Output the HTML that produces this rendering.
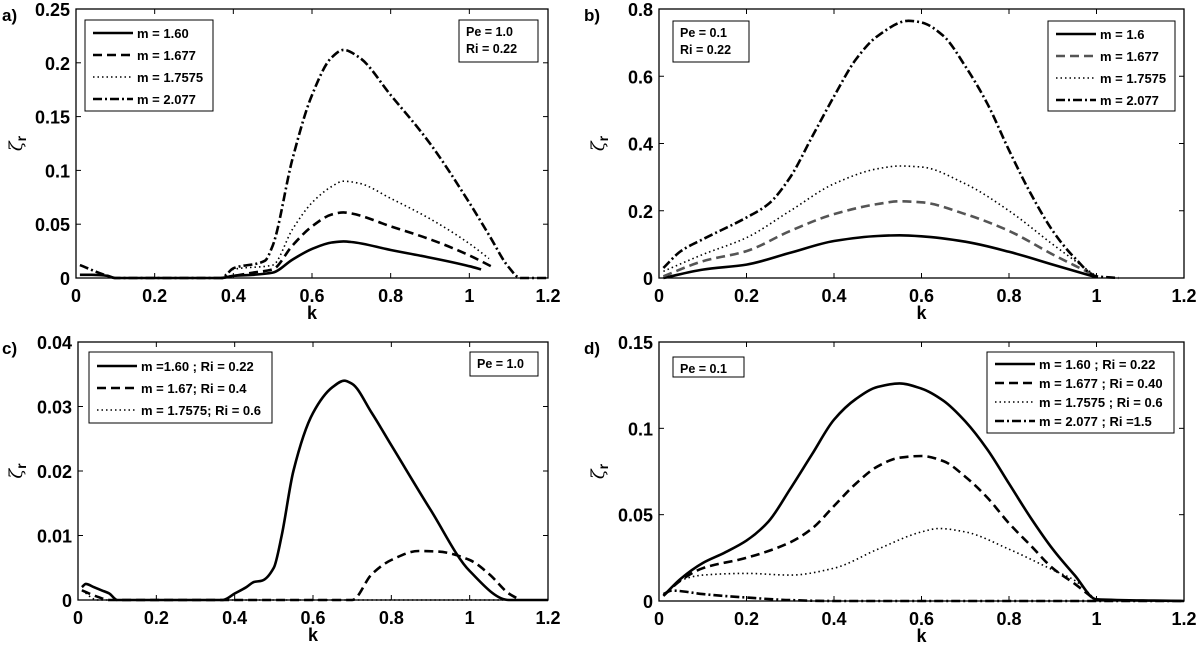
<!DOCTYPE html>
<html><head><meta charset="utf-8"><style>
body{margin:0;background:#fff;}
svg{display:block;font-family:"Liberation Sans",Arial,sans-serif;}
</style></head><body>
<svg id="fig" width="1200" height="645" viewBox="0 0 1200 645"></svg>
<script>
// Panel a data (Pe=1.0, Ri=0.22)
const aK1=[0.01,0.04,0.08,0.1,0.37,0.4,0.45,0.5,0.55,0.6,0.65,0.68,0.7,0.8,0.9,1.0,1.03];
const aY1=[0.003,0.003,0.002,0,0,0.002,0.003,0.005,0.017,0.027,0.033,0.034,0.0335,0.026,0.019,0.011,0.008];
const aK2=[0.37,0.45,0.5,0.55,0.6,0.65,0.68,0.7,0.8,0.9,1.0,1.06];
const aY2=[0,0.005,0.008,0.03,0.048,0.059,0.061,0.060,0.048,0.036,0.021,0.01];
const aK3=[0.37,0.4,0.5,0.55,0.6,0.65,0.68,0.72,0.8,0.9,1.0,1.05];
const aY3=[0,0.008,0.012,0.045,0.07,0.085,0.09,0.088,0.074,0.055,0.032,0.018];
const aK4=[0.01,0.08,0.1,0.37,0.4,0.48,0.5,0.55,0.6,0.65,0.68,0.72,0.8,0.9,1.0,1.05,1.1,1.13,1.2];
const aY4=[0.012,0.002,0,0,0.009,0.016,0.03,0.11,0.17,0.205,0.212,0.205,0.17,0.125,0.07,0.04,0.01,0,0];
// Panel b data (Pe=0.1, Ri=0.22)
const bK1=[0.01,0.1,0.2,0.3,0.4,0.5,0.55,0.6,0.7,0.8,0.9,1.0];
const bY1=[0,0.025,0.04,0.075,0.11,0.125,0.127,0.124,0.108,0.078,0.04,0.002];
const bK2=[0.01,0.1,0.2,0.3,0.4,0.5,0.55,0.6,0.7,0.8,0.9,1.0];
const bY2=[0.005,0.05,0.08,0.14,0.19,0.22,0.228,0.225,0.19,0.14,0.07,0.005];
const bK3=[0.01,0.1,0.2,0.3,0.4,0.5,0.55,0.6,0.7,0.8,0.9,1.0];
const bY3=[0.02,0.07,0.12,0.2,0.28,0.325,0.333,0.33,0.28,0.2,0.1,0.005];
const bK4=[0.01,0.05,0.1,0.2,0.25,0.3,0.35,0.4,0.45,0.5,0.57,0.6,0.65,0.7,0.75,0.8,0.85,0.9,0.95,1.0,1.05];
const bY4=[0.03,0.08,0.115,0.18,0.22,0.3,0.42,0.54,0.65,0.72,0.765,0.76,0.72,0.63,0.52,0.38,0.25,0.14,0.06,0.005,0];
// Panel c data (Pe=1.0)
const cK1=[0.01,0.02,0.04,0.06,0.08,0.1,0.37,0.4,0.43,0.45,0.47,0.5,0.52,0.55,0.6,0.65,0.68,0.7,0.75,0.8,0.9,1.0,1.1,1.2];
const cY1=[0.002,0.0025,0.002,0.0015,0.001,0,0,0.001,0.002,0.0028,0.003,0.005,0.01,0.02,0.029,0.033,0.034,0.0335,0.029,0.024,0.014,0.0045,0,0];
const cK2=[0.01,0.05,0.08,0.7,0.75,0.8,0.87,0.92,1.0,1.05,1.1,1.13];
const cY2=[0.0015,0.0005,0,0,0.004,0.0062,0.0076,0.0075,0.0062,0.004,0.001,0];
const cK3=[0.01,0.05,1.2];
const cY3=[0.0015,0,0];
// Panel d data (Pe=0.1)
const dK1=[0.01,0.05,0.1,0.15,0.2,0.25,0.3,0.35,0.4,0.45,0.5,0.55,0.6,0.65,0.7,0.75,0.8,0.85,0.9,0.95,1.0,1.2];
const dY1=[0.003,0.013,0.022,0.028,0.035,0.046,0.065,0.085,0.105,0.117,0.124,0.126,0.123,0.116,0.104,0.088,0.068,0.048,0.03,0.015,0.001,0];
const dK2=[0.01,0.05,0.1,0.2,0.3,0.35,0.4,0.45,0.5,0.55,0.6,0.65,0.7,0.75,0.8,0.85,0.9,0.95,1.0];
const dY2=[0.003,0.012,0.019,0.025,0.034,0.042,0.055,0.068,0.078,0.083,0.084,0.081,0.072,0.06,0.045,0.032,0.019,0.01,0];
const dK3=[0.01,0.05,0.1,0.2,0.3,0.4,0.5,0.6,0.64,0.7,0.8,0.9,0.95,1.0];
const dY3=[0.003,0.012,0.015,0.016,0.015,0.019,0.03,0.04,0.042,0.04,0.03,0.018,0.012,0];
const dK4=[0.01,0.03,0.1,0.2,0.3,0.4,1.2];
const dY4=[0.004,0.006,0.004,0.002,0.0005,0,0];

const xTicks=["0","0.2","0.4","0.6","0.8","1","1.2"];
const aTicks=["0","0.05","0.1","0.15","0.2","0.25"];
const bTicks=["0","0.2","0.4","0.6","0.8"];
const cTicks=["0","0.01","0.02","0.03","0.04"];
const dTicks=["0","0.05","0.1","0.15"];

const NS="http://www.w3.org/2000/svg";
const svg=document.getElementById('fig');
function mk(tag,attrs,parent,text){const e=document.createElementNS(NS,tag);for(const k in attrs)e.setAttribute(k,attrs[k]);if(text!==undefined)e.textContent=text;(parent||svg).appendChild(e);return e;}
const styles={
 solid:{stroke:"#000",dash:"none",w:2.6},
 dash:{stroke:"#000",dash:"9,5",w:2.6},
 graydash:{stroke:"#555",dash:"9,5",w:2.6},
 dot:{stroke:"#000",dash:"1.5,3",w:1.6},
 dashdot:{stroke:"#000",dash:"9,3,2,3",w:2.6}
};
// monotone cubic (Fritsch-Carlson) path, x strictly increasing
function smoothPath(pts){
 const n=pts.length;
 if(n<3){return "M"+pts.map(p=>p[0].toFixed(1)+","+p[1].toFixed(1)).join(" L");}
 const dx=[],s=[];
 for(let i=0;i<n-1;i++){dx.push(pts[i+1][0]-pts[i][0]);s.push((pts[i+1][1]-pts[i][1])/dx[i]);}
 const m=[s[0]];
 for(let i=1;i<n-1;i++){
  if(s[i-1]*s[i]<=0)m.push(0);
  else{const w1=2*dx[i]+dx[i-1],w2=dx[i]+2*dx[i-1];m.push((w1+w2)/(w1/s[i-1]+w2/s[i]));}
 }
 m.push(s[n-2]);
 let d="M"+pts[0][0].toFixed(1)+","+pts[0][1].toFixed(1);
 for(let i=0;i<n-1;i++){
  const h=dx[i]/3;
  d+=` C${(pts[i][0]+h).toFixed(1)},${(pts[i][1]+m[i]*h).toFixed(1)} ${(pts[i+1][0]-h).toFixed(1)},${(pts[i+1][1]-m[i+1]*h).toFixed(1)} ${pts[i+1][0].toFixed(1)},${pts[i+1][1].toFixed(1)}`;
 }
 return d;
}
function panel(cfg){
 const g=mk('g',{});
 
 
 const {L,R,T,B,ymax,yT}=cfg;
 const xs=k=>L+(k/1.2)*(R-L);
 const ys=v=>B-(v/ymax)*(B-T);
 mk('rect',{x:L,y:T,width:R-L,height:B-T,fill:"#fff",stroke:"none"},g);
 cfg.series.forEach((s,i)=>{
  const st=styles[s.style];
  const pts=s.k.map((k,j)=>[xs(k),ys(s.y[j])]);
  const p=mk('path',{d:smoothPath(pts),fill:"none",stroke:st.stroke,"stroke-width":st.w,"stroke-dasharray":st.dash,"stroke-linejoin":"round"},g);
  
  
 });
 mk('rect',{x:L,y:T,width:R-L,height:B-T,fill:"none",stroke:"#000","stroke-width":1.3},g);
 xTicks.forEach((t,i)=>{
  const x=xs(i*0.2);
  mk('line',{x1:x,y1:B,x2:x,y2:B-5,stroke:"#000"},g);
  mk('line',{x1:x,y1:T,x2:x,y2:T+5,stroke:"#000"},g);
  const tx=mk('text',{x:x,y:B+24,"text-anchor":"middle","font-size":18,"font-weight":"bold"},g,t);
  
  
 });
 yT.forEach((t,i)=>{
  const y=ys(i*ymax/(yT.length-1));
  mk('line',{x1:L,y1:y,x2:L+5,y2:y,stroke:"#000"},g);
  mk('line',{x1:R,y1:y,x2:R-5,y2:y,stroke:"#000"},g);
  const tx=mk('text',{x:L-6,y:y+7,"text-anchor":"end","font-size":18,"font-weight":"bold"},g,t);
  
  
 });
 const xl=mk('text',{x:(L+R)/2,y:B+41,"text-anchor":"middle","font-size":18,"font-weight":"bold"},g,"k");
 
 
 const yl=mk('text',{x:0,y:0,"font-size":18,transform:`translate(${cfg.ylx},${(T+B)/2}) rotate(-90)`,"text-anchor":"middle"},g);
 
 
 mk('tspan',{"font-family":"DejaVu Serif, serif","font-style":"italic"},yl,"ζ");
 mk('tspan',{dy:4,"font-size":14,"font-weight":"bold"},yl,"r");
 const pl=mk('text',{x:cfg.plx,y:T+12,"font-size":17,"font-weight":"bold"},g,cfg.id+")");
 
 
 const lg=cfg.legend;
 const lgG=mk('g',{},g);
 
 
 mk('rect',{x:lg.x,y:lg.y,width:lg.w,height:lg.h,fill:"#fff",stroke:"#000","stroke-width":1},lgG);
 lg.items.forEach((it,i)=>{
  const st=styles[cfg.series[i].style];
  const y=lg.y+lg.y0+i*lg.dy;
  mk('line',{x1:lg.x+8,y1:y,x2:lg.x+8+lg.lineW,y2:y,stroke:st.stroke,"stroke-width":st.w,"stroke-dasharray":st.dash},lgG);
  const t=mk('text',{x:lg.x+12+lg.lineW,y:y+5,"font-size":13,"font-weight":"bold"},lgG,it);
  
  
 });
 const ib=cfg.info;
 const ibG=mk('g',{},g);
 
 
 mk('rect',{x:ib.x,y:ib.y,width:ib.w,height:ib.h,fill:"#fff",stroke:"#000","stroke-width":1},ibG);
 ib.lines.forEach((l,i)=>mk('text',{x:ib.x+7,y:ib.y+16+i*17,"font-size":12.5,"font-weight":"bold"},ibG,l));
}
panel({id:"a",L:76,R:548,T:9,B:278,ymax:0.25,yT:aTicks,ylx:22,plx:2,
 series:[{k:aK1,y:aY1,style:"solid"},{k:aK2,y:aY2,style:"dash"},{k:aK3,y:aY3,style:"dot"},{k:aK4,y:aY4,style:"dashdot"}],
 legend:{x:85,y:20,w:128,h:91,y0:13,dy:22,lineW:40,items:["m = 1.60","m = 1.677","m = 1.7575","m = 2.077"]},
 info:{x:459,y:20,w:79,h:42,lines:["Pe = 1.0","Ri = 0.22"]}});
panel({id:"b",L:659,R:1184,T:9,B:278,ymax:0.8,yT:bTicks,ylx:604,plx:584,
 series:[{k:bK1,y:bY1,style:"solid"},{k:bK2,y:bY2,style:"graydash"},{k:bK3,y:bY3,style:"dot"},{k:bK4,y:bY4,style:"dashdot"}],
 legend:{x:1048,y:21,w:127,h:90,y0:13,dy:22,lineW:40,items:["m = 1.6","m = 1.677","m = 1.7575","m = 2.077"]},
 info:{x:673,y:21,w:76,h:41,lines:["Pe = 0.1","Ri = 0.22"]}});
panel({id:"c",L:78,R:548,T:342,B:600,ymax:0.04,yT:cTicks,ylx:22,plx:2,
 series:[{k:cK1,y:cY1,style:"solid"},{k:cK2,y:cY2,style:"dash"},{k:cK3,y:cY3,style:"dot"}],
 legend:{x:89,y:352,w:183,h:71,y0:14,dy:22,lineW:40,items:["m =1.60 ; Ri = 0.22","m = 1.67; Ri = 0.4","m = 1.7575; Ri = 0.6"]},
 info:{x:470,y:352,w:68,h:24,lines:["Pe = 1.0"]}});
panel({id:"d",L:659,R:1184,T:342,B:601,ymax:0.15,yT:dTicks,ylx:604,plx:584,
 series:[{k:dK1,y:dY1,style:"solid"},{k:dK2,y:dY2,style:"dash"},{k:dK3,y:dY3,style:"dot"},{k:dK4,y:dY4,style:"dashdot"}],
 legend:{x:987,y:352,w:187,h:81,y0:12,dy:19,lineW:40,items:["m = 1.60 ; Ri = 0.22","m = 1.677 ; Ri = 0.40","m = 1.7575 ; Ri = 0.6","m = 2.077 ; Ri =1.5"]},
 info:{x:673,y:357,w:71,h:20,lines:["Pe = 0.1"]}});
</script>
</body></html>
